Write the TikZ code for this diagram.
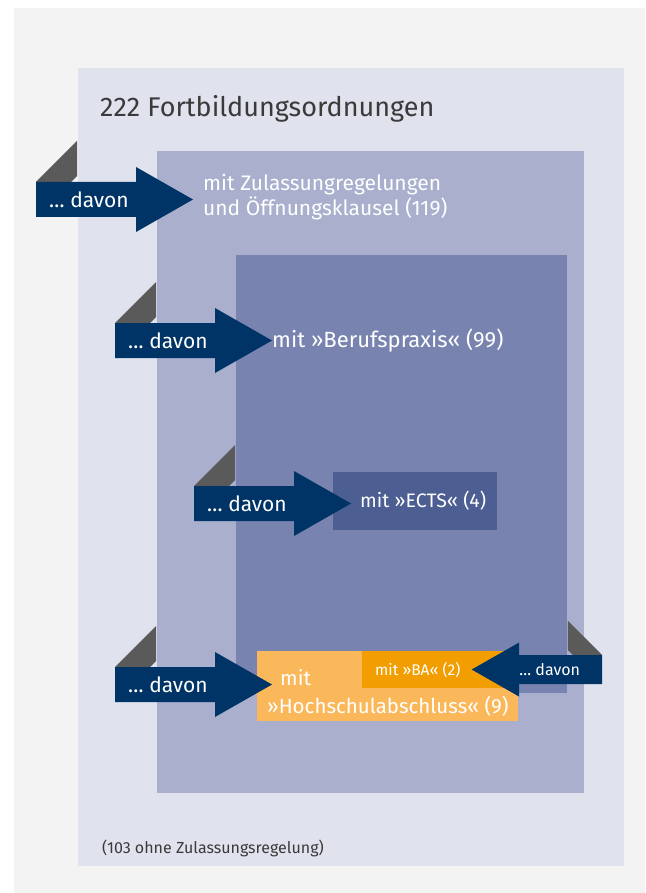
\documentclass[tikz,border=0pt]{standalone}
\usepackage{fontspec}
\setmainfont{Fira Sans}

\definecolor{hintergrund}{HTML}{F3F3F3}
\definecolor{lavendel}{HTML}{E0E2EE}
\definecolor{mittelblau}{HTML}{A9AFCD}
\definecolor{dunkelblau}{HTML}{7884AF}
\definecolor{ectsblau}{HTML}{4C5E92}
\definecolor{marine}{HTML}{003366}
\definecolor{falz}{HTML}{5A5A5A}
\definecolor{hellorange}{HTML}{FBB85B}
\definecolor{baorange}{HTML}{F29E00}
\definecolor{schrift}{HTML}{3A3A3A}

\tikzset{
  davon tx/.store in=\davontx, davon tx=53,
  davon/.pic={
    \fill[falz] (0,0) -- (41,-41) -- (41,-6) -- (35,0) -- cycle;
    \fill[marine] (0,0) -- (100,0) -- (100,-15) -- (157,17.5) -- (100,50) -- (100,35) -- (0,35) -- cycle;
    \node[text=white] (-text) at (\davontx,17.5) {\ldots\ davon};
  },
  beschriftung/.style={text=white, inner sep=0, anchor=base west, align=left},
}

\begin{document}
\begin{tikzpicture}[x=1pt,y=-1pt]
  \useasboundingbox (0,0) rectangle (645,893);
  \fill[white] (0,0) rectangle (645,893);
  \fill[hintergrund] (14,8) rectangle (645,893);
  % Kaesten
  \fill[lavendel] (78,68) rectangle (624,866);
  \fill[mittelblau] (157,151) rectangle (584,793);
  \fill[dunkelblau] (236,255) rectangle (567,693);
  \fill[ectsblau] (333,472) rectangle (497,530);
  \fill[hellorange] (257,651) rectangle (518,721);
  \fill[baorange] (362,651) rectangle (518,688);
  % Pfeile
  \pic[font=\fontsize{21}{24}\selectfont] (pfeil1) at (36,182) {davon};
  \pic[font=\fontsize{21}{24}\selectfont] (pfeil2) at (115,323) {davon};
  \pic[font=\fontsize{21}{24}\selectfont] (pfeil3) at (194,486) {davon};
  \pic[font=\fontsize{21}{24}\selectfont] (pfeil4) at (115,667) {davon};
  \pic[xscale=-0.83, yscale=0.83, davon tx=63, font=\fontsize{16}{18}\selectfont] (pfeil5) at (602,655) {davon};
  % Texte
  \node[beschriftung, text=schrift, font=\fontsize{27}{30}\selectfont] (titel) at (100,117) {222 Fortbildungsordnungen};
  \node[beschriftung, font=\fontsize{21}{25}\selectfont] (zulassung) at (203,216) {mit Zulassungregelungen\\und Öffnungsklausel (119)};
  \node[beschriftung, font=\fontsize{22}{25}\selectfont] (praxis) at (272,347) {mit »Berufspraxis« (99)};
  \node[beschriftung, font=\fontsize{19.5}{25}\selectfont] (ects) at (360,507) {mit »ECTS« (4)};
  \node[beschriftung, font=\fontsize{20.5}{28}\selectfont] (hochschule) at (267,713) {\hspace*{13pt}mit\\»Hochschulabschluss« (9)};
  \node[beschriftung, font=\fontsize{15.5}{18}\selectfont] (ba) at (375,675) {mit »BA« (2)};
  \node[beschriftung, text=schrift, font=\fontsize{16}{18}\selectfont] (ohne) at (102,853) {(103 ohne Zulassungsregelung)};
\end{tikzpicture}
\end{document}
